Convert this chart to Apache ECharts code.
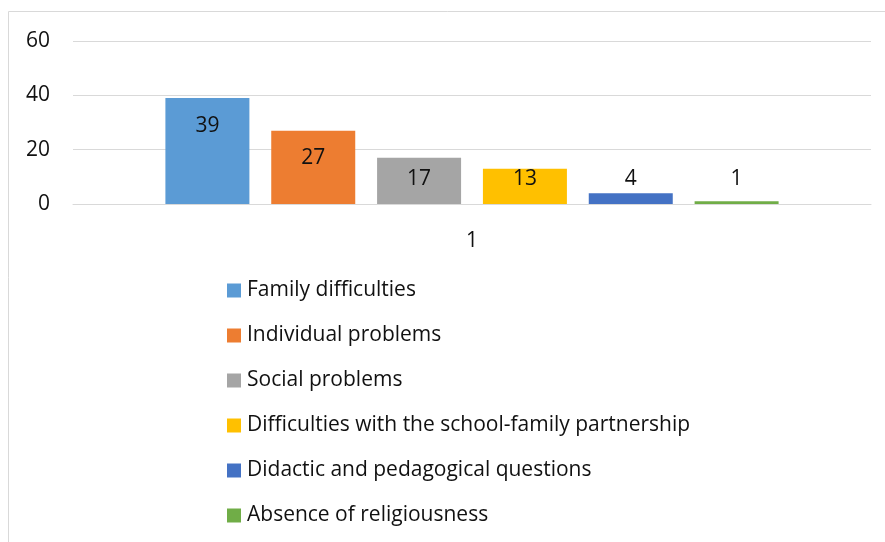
<!DOCTYPE html>
<html><head><meta charset="utf-8">
<script src="https://cdn.jsdelivr.net/npm/echarts@6/dist/echarts.min.js"></script>
<style>html,body{margin:0;padding:0;background:#fff}#c{width:885px;height:542px}</style>
</head><body><div id="c"></div>
<script>
const categories = ['1'];
const seriesNames = ['Family difficulties','Individual problems','Social problems','Difficulties with the school-family partnership','Didactic and pedagogical questions','Absence of religiousness'];
const seriesValues = [39, 27, 17, 13, 4, 1];
const colors = ['#5B9BD5','#ED7D31','#A5A5A5','#FFC000','#4472C4','#70AD47'];
const yTicks = {min: 0, max: 60, interval: 20};

const FONT = 'Open Sans';
const FS = 21;
const chart = echarts.init(document.getElementById('c'), null, {renderer: 'canvas'});
const series = seriesNames.map((name, i) => {
  const big = seriesValues[i] >= 20;
  return {
    name, type: 'bar', data: [seriesValues[i]],
    barWidth: 84, barGap: '26%',
    itemStyle: {color: colors[i]},
    label: {
      show: true,
      position: big ? 'insideTop' : 'insideBottom',
      distance: big ? 17 : 14,
      color: '#111', fontFamily: FONT, fontSize: FS
    }
  };
});
chart.setOption({
  animation: false,
  textStyle: {fontFamily: FONT},
  graphic: [{type: 'rect', shape: {x: 8.5, y: 11.5, width: 1000, height: 700}, style: {fill: 'none', stroke: '#d9d9d9', lineWidth: 1}, silent: true}],
  grid: {left: 73, right: 14, top: 41, bottom: 338, containLabel: false},
  legend: {
    orient: 'vertical', left: 227, top: 280, height: 300, padding: 0,
    itemWidth: 14, itemHeight: 14, itemGap: 24,
    icon: 'rect',
    textStyle: {fontFamily: FONT, fontSize: FS, lineHeight: 21, color: '#111', padding: [0, 0, 0, 1]},
    data: seriesNames
  },
  xAxis: {
    type: 'category', data: categories,
    axisLine: {lineStyle: {color: '#d9d9d9', width: 1}},
    axisTick: {show: false},
    axisLabel: {color: '#111', fontFamily: FONT, fontSize: FS, margin: 27}
  },
  yAxis: {
    type: 'value', min: yTicks.min, max: yTicks.max, interval: yTicks.interval,
    axisLine: {show: false}, axisTick: {show: false},
    axisLabel: {color: '#111', fontFamily: FONT, fontSize: FS, margin: 23},
    splitLine: {lineStyle: {color: '#d9d9d9', width: 1}}
  },
  series
});
</script></body></html>
